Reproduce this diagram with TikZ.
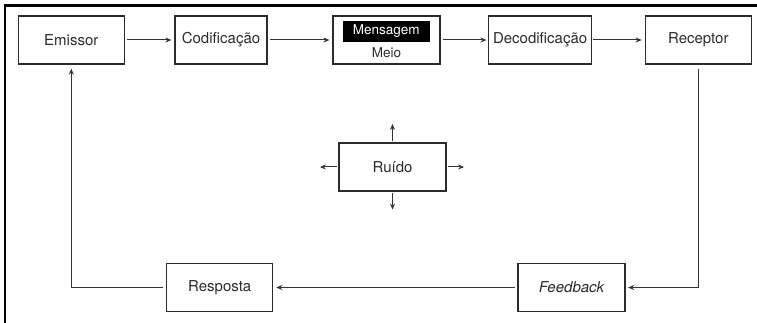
\documentclass[tikz,border=0pt]{standalone}
\usepackage{fontspec}
\setmainfont{TeX Gyre Heros}
\usetikzlibrary{arrows.meta}
\definecolor{ink}{HTML}{2B2B2B}
\definecolor{wire}{HTML}{333333}
\tikzset{
  stage/.style={draw=ink, line width=1.2pt, rectangle, minimum height=48pt,
    inner sep=0pt, text=ink, font=\fontsize{15}{17}\selectfont},
  conn/.style={draw=wire, line width=1pt,
    -{Stealth[length=6pt,width=5pt]}},
}
\begin{document}
\begin{tikzpicture}[x=1pt,y=-1pt]
  \useasboundingbox (0,0) rectangle (757,323);
  % outer frame (top and left edges only)
  \draw[line width=2.6pt, black] (4.8,323) -- (4.8,5.6) -- (757,5.6);

  % top row
  \node[stage, minimum width=106pt] (emissor) at (71.3,40) {Emissor};
  \node[stage, minimum width=92pt]  (codif)   at (221,40)  {Codificação};
  \node[stage, minimum width=107pt] (meio)    at (386.5,40) {};
  \node[fill=black, text=white, minimum width=87pt, minimum height=20.5pt,
        inner sep=0pt, font=\fontsize{13.5}{15}\selectfont] (msg) at (386.3,31.3) {Mensagem};
  \node[text=ink, inner sep=0pt, font=\fontsize{13.5}{15}\selectfont] (meiotxt) at (386.5,52.8) {Meio};
  \node[stage, minimum width=103pt] (decod)   at (540.1,40) {Decodificação};
  \node[stage, minimum width=106pt] (receptor) at (698.3,40) {Receptor};

  % noise
  \node[stage, minimum width=107pt] (ruido) at (392.5,167) {Ruído};
  \coordinate (rn) at ([yshift=18.5pt]ruido.north);
  \coordinate (rs) at ([yshift=-18pt]ruido.south);
  \coordinate (rw) at ([xshift=-18.5pt]ruido.west);
  \coordinate (re) at ([xshift=17.5pt]ruido.east);

  % bottom row
  \node[stage, minimum width=106pt] (resposta) at (219.7,287.5) {Resposta};
  \node[stage, minimum width=107pt] (feedback) at (571.5,287.5) {\itshape Feedback};

  % flow along the top row
  \draw[conn, shorten <=2.5pt, shorten >=3pt] (emissor) -- (codif);
  \draw[conn, shorten <=2.5pt, shorten >=3pt] (codif) -- (meio);
  \draw[conn, shorten <=2.5pt, shorten >=1.5pt] (meio) -- (decod);
  \draw[conn, shorten <=1pt, shorten >=3pt] (decod) -- (receptor);

  % feedback loop
  \draw[conn, shorten <=4.5pt, shorten >=2.5pt] (receptor.south) |- (feedback.east);
  \draw[conn, shorten <=2.5pt, shorten >=3pt] (feedback) -- (resposta);
  \draw[conn, shorten <=3.5pt, shorten >=4pt] (resposta.west) -| (emissor.south);

  % noise radiating outwards
  \draw[conn, shorten <=1.5pt] (ruido.north) -- (rn);
  \draw[conn, shorten <=1.5pt] (ruido.south) -- (rs);
  \draw[conn, shorten <=1.5pt] (ruido.west) -- (rw);
  \draw[conn, shorten <=1.5pt] (ruido.east) -- (re);
\end{tikzpicture}
\end{document}
